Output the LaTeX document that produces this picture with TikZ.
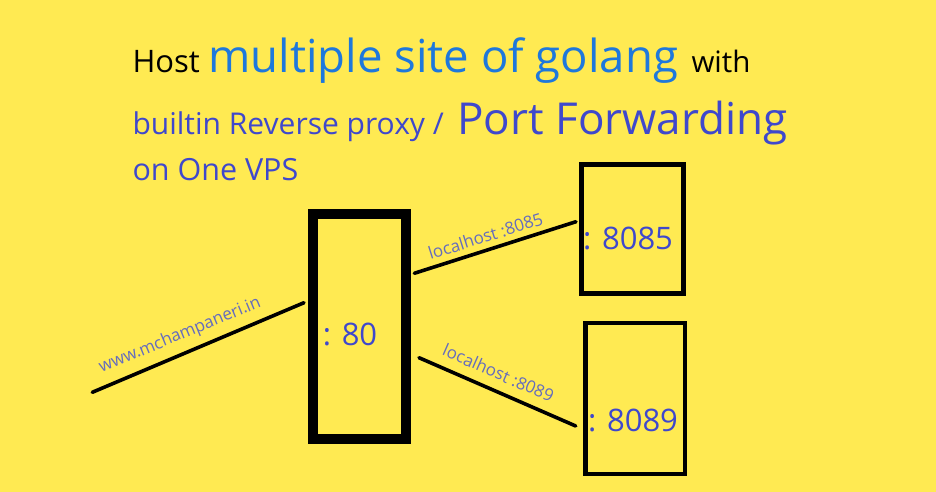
\documentclass[tikz,border=0pt]{standalone}
\usepackage{fontspec}
\setmainfont{Open Sans}
\definecolor{bgyellow}{RGB}{255,234,82}
\definecolor{titleblue}{RGB}{30,120,220}
\definecolor{indig}{RGB}{63,72,204}
\definecolor{lablue}{RGB}{100,108,190}
\tikzset{
  txt/.style={anchor=base west, inner sep=0pt, outer sep=0pt},
  portbox/.style={draw=black, rectangle, inner sep=0pt},
  porttext/.style={inner sep=0pt, text=indig, font=\fontsize{31}{31}\selectfont},
  link/.style={draw=black, line width=3.6pt, line cap=round},
  linklabel/.style={inner sep=0pt, text=lablue, font=\fontsize{17}{17}\selectfont}
}
\begin{document}
\begin{tikzpicture}[x=1pt,y=-1pt]
\fill[bgyellow] (0,0) rectangle (936,492);
\useasboundingbox (0,0) rectangle (936,492);
% title
\node[txt, font=\fontsize{31}{31}\selectfont, text=black] (t1) at (132.5,72.3) {Host};
\node[txt, font=\fontsize{45.5}{45.5}\selectfont, text=titleblue] (t2) at (208.5,72.3) {multiple site of golang};
\node[txt, font=\fontsize{29.5}{29.5}\selectfont, text=black] (t3) at (691.5,72.3) {with};
\node[txt, font=\fontsize{30}{30}\selectfont, text=indig] (t4) at (132.5,135) {builtin Reverse proxy /};
\node[txt, font=\fontsize{44}{44}\selectfont, text=indig] (t5) at (457.5,135) {Port Forwarding};
\node[txt, font=\fontsize{30.5}{30.5}\selectfont, text=indig] (t6) at (132.5,180) {on One VPS};
% boxes
\node[portbox, line width=10pt, minimum width=93pt, minimum height=225pt] (main) at (359.5,326.5) {};
\node[portbox, line width=4.5pt, minimum width=102pt, minimum height=129pt] (p85) at (632.7,229) {};
\node[portbox, line width=4.5pt, minimum width=99.7pt, minimum height=150.7pt] (p89) at (635.2,398.4) {};
\node[porttext] (l80) at (350,334) {: 80};
\node[porttext] (l85) at (628,238) {: 8085};
\node[porttext] (l89) at (633,420) {: 8089};
% connectors
\coordinate (web) at (92.3,392.3);
\coordinate (mainin) at (304,302.7);
\coordinate (mainout1) at (414.3,273.3);
\coordinate (in85) at (576,221.7);
\coordinate (mainout2) at (419,357.7);
\coordinate (in89) at (575.7,426);
\draw[link] (web) -- (mainin);
\draw[link] (mainout1) -- (in85);
\draw[link] (mainout2) -- (in89);
\node[linklabel, rotate=22.5] (lw) at (180,335.5) {www.mchampaneri.in};
\node[linklabel, rotate=17.5] (lh85) at (485.5,236) {localhost :8085};
\node[linklabel, rotate=-23.6] (lh89) at (498.5,373) {localhost :8089};
\end{tikzpicture}
\end{document}
